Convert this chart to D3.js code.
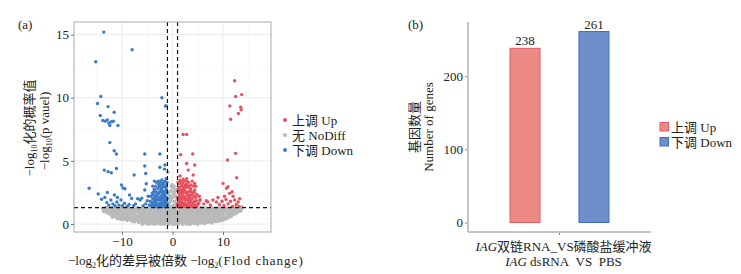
<!DOCTYPE html>
<html>
<head>
<meta charset="utf-8">
<script src="https://cdn.jsdelivr.net/npm/d3@7"></script>
<style>
  body { margin: 0; background: #fff; }
  svg text { font-family: "Liberation Serif", "Times New Roman", "Noto Sans CJK SC", serif; fill: #222; }
</style>
</head>
<body>
<div id="container"></div>
<script>
//数据 (a) 火山图: [log2FC, -log10 p]
let noDiffPts = [
  [-13.8,1.25],[-13.5,1.1],[-13.3,1.3],[-13.1,0.95],[-12.9,1.15],[-12.7,0.85],[-12.6,1.25],[-12.4,1.0],[-12.2,0.75],[-12.1,1.2],
  [-11.9,0.9],[-11.7,0.65],[-11.6,1.1],[-11.4,0.8],[-11.3,1.25],[-11.1,0.55],[-11.0,0.95],[-10.8,1.15],[-10.7,0.7],[-10.5,0.45],
  [-10.4,1.0],[-10.3,1.25],[-10.1,0.6],[-10.0,0.85],[-9.8,0.35],[-9.7,1.1],[-9.5,0.7],[-9.4,0.5],[-9.3,1.25],[-9.1,0.9],
  [-9.0,0.3],[-8.8,0.6],[-8.7,1.05],[-8.5,0.4],[-8.4,0.8],[-8.3,1.2],[-8.1,0.25],[-8.0,0.95],[-7.8,0.55],[-7.7,1.15],
  [-7.5,0.2],[-7.4,0.75],[-7.3,1.0],[-7.1,0.4],[-7.0,1.25],[-6.9,0.6],[-6.7,0.15],[-6.6,0.9],[-6.5,1.2],[-6.3,0.35],
  [-6.2,0.7],[-6.0,1.05],[-5.9,0.1],[-5.8,0.5],[-5.6,0.85],[-5.5,1.25],[-5.4,0.2],[-5.2,0.65],[-5.1,1.0],[-4.9,0.05],
  [-4.8,0.4],[-4.7,0.8],[-4.5,1.15],[-4.4,0.25],[-4.3,0.6],[-4.1,0.95],[-4.0,0.1],[-3.9,0.45],[-3.8,1.25],[-3.7,0.75],
  [-3.6,0.0],[-3.5,1.05],[-3.4,0.3],[-3.3,0.6],[-3.2,0.9],[-3.1,1.2],[-3.0,0.15],[-2.9,0.45],[-2.8,0.75],[-2.7,1.05],
  [-2.6,0.05],[-2.5,0.35],[-2.4,0.65],[-2.3,0.95],[-2.2,1.25],[-2.1,0.2],[-2.0,0.5],[-1.9,0.8],[-1.8,1.1],[-1.7,0.0],
  [-1.6,0.3],[-1.5,0.6],[-1.4,0.9],[-1.3,1.2],[-1.2,0.15],[-1.1,0.45],[-1.0,0.75],[-0.9,1.05],[-0.8,0.0],[-0.7,0.3],
  [-0.6,0.6],[-0.5,0.9],[-0.4,1.2],[-0.3,0.15],[-0.2,0.45],[-0.1,0.75],[0.0,1.05],[0.1,0.0],[0.2,0.3],[0.3,0.6],
  [0.4,0.9],[0.5,1.2],[0.6,0.15],[0.7,0.45],[0.8,0.75],[0.9,1.05],[1.0,0.05],
  [-0.9,4.1],[-0.2,3.0],[0.1,2.8],[0.3,2.5],[-0.4,2.6],[0.6,2.2],[-0.7,2.3],[0.0,2.1],[-0.3,1.9],[0.4,1.8],
  [-0.6,1.7],[0.8,1.6],[0.2,1.5],[-0.1,1.4],[-0.8,1.5],[0.5,1.4],[0.9,2.0],[-0.5,2.0],[0.2,2.4],[-0.2,2.2],
  [0.7,2.7],[-0.1,3.1],[0.3,3.0],
  [1.1,0.35],[1.2,0.85],[1.3,1.15],[1.4,0.1],[1.5,0.55],[1.6,1.0],[1.7,0.25],[1.8,0.7],[1.9,1.25],[2.0,0.0],
  [2.1,0.4],[2.2,0.9],[2.3,1.1],[2.4,0.2],[2.5,0.6],[2.6,1.0],[2.7,0.3],[2.8,0.8],[2.9,1.2],[3.0,0.05],
  [3.1,0.5],[3.2,0.95],[3.3,0.2],[3.4,0.7],[3.5,1.15],[3.6,0.35],[3.7,0.85],[3.8,0.1],[3.9,0.55],[4.0,1.0],
  [4.1,0.25],[4.2,1.25],[4.3,0.7],[4.5,0.1],[4.6,0.45],[4.7,0.95],[4.9,0.2],[5.0,0.6],[5.1,1.1],[5.3,0.35],
  [5.4,0.8],[5.5,1.25],[5.7,0.15],[5.8,0.5],[5.9,0.95],[6.1,0.3],[6.2,0.7],[6.3,1.15],[6.5,0.2],[6.6,0.55],
  [6.8,0.9],[6.9,1.2],[7.0,0.35],[7.2,0.7],[7.3,1.05],[7.5,0.25],[7.6,0.55],[7.8,0.95],[7.9,1.25],[8.1,0.4],
  [8.2,0.75],[8.4,1.1],[8.5,0.3],[8.7,0.6],[8.8,1.0],[9.0,0.45],[9.1,0.8],[9.3,1.2],[9.4,0.35],[9.6,0.65],
  [9.7,1.05],[9.9,0.5],[10.0,0.85],[10.2,1.25],[10.3,0.55],[10.5,0.9],[10.6,0.45],[10.8,1.15],[10.9,0.7],[11.1,1.0],
  [11.2,0.6],[11.4,1.25],[11.5,0.85],[11.7,0.7],[11.8,1.1],[12.0,0.9],[12.1,1.25],[12.3,0.8],[12.5,1.05],[12.7,0.95],
  [12.8,1.3],[13.0,1.1],[13.2,1.0],[13.4,1.25],[13.6,1.2],[13.8,1.35],
  [-8.9,0.75],[-8.6,0.95],[-8.2,0.5],[-7.9,0.8],[-7.6,0.35],[-7.2,0.55],[-6.8,1.0],[-6.4,0.5],[-6.1,0.85],[-5.7,0.65],
  [-5.3,0.95],[-5.0,0.3],[-4.6,0.65],[-4.2,0.4],[-3.95,0.8],[-3.75,0.2],[-3.55,0.55],[-3.35,0.95],[-3.15,0.35],[-2.95,0.75],
  [-2.75,0.2],[-2.55,0.85],[-2.35,0.45],[-2.15,0.7],[-1.95,0.3],[-1.75,0.55],[-1.55,1.05],[-1.35,0.45],[-1.15,0.95],[-0.95,0.2],
  [-0.75,0.6],[-0.55,0.3],[-0.35,0.75],[-0.15,0.25],[0.05,0.55],[0.25,0.95],[0.45,0.3],[0.65,0.8],[0.85,0.4],[1.05,0.7],
  [1.25,0.25],[1.45,0.9],[1.65,0.5],[1.85,0.15],[2.05,0.8],[2.25,0.45],[2.45,1.0],[2.65,0.65],[2.85,0.15],[3.05,0.8],
  [3.25,0.4],[3.45,1.05],[3.65,0.6],[3.85,0.9],[4.05,0.45],[4.4,0.9],[4.8,0.65],[5.2,0.85],[5.6,0.4],[6.0,0.6],
  [6.4,1.0],[6.7,0.35],[7.1,0.95],[7.4,0.5],[7.7,0.8],[8.0,0.2],[8.3,0.55],[8.6,0.85],[8.9,0.65],
  [-8.8,1.3],[-7.9,1.05],[-6.8,1.3],[-5.9,1.3],[-4.9,1.3],[-4.2,1.25],[-2.5,1.2],[-1.6,1.25],[-0.6,1.3],[0.3,1.25],
  [1.6,1.3],[2.6,1.25],[3.6,1.3],[4.8,1.3],[5.9,1.3],[6.6,1.25],[7.5,1.3],[8.9,1.25],[9.5,1.3],[10.4,1.3],
  [11.6,1.3],[-9.9,1.25],[-11.0,1.3],[-12.0,1.3],
  [-6.0,0.0],[-5.2,0.05],[-4.6,0.0],[-3.9,0.1],[-3.2,0.05],[-2.3,0.0],[-1.4,0.05],[-0.5,0.05],[0.4,0.0],[1.2,0.05],
  [2.2,0.1],[2.8,0.0],[3.5,0.0],[4.3,0.05],[5.0,0.0],[5.6,0.1],[6.3,0.05],[7.0,0.15],[7.7,0.1],[8.6,0.2],[9.2,0.25],
  [-13.6,1.0],[-13.0,1.3],[-12.3,1.2],[-11.9,0.55],[-11.5,0.9],[-11.2,1.1],[-10.9,0.45],[-10.6,0.75],[-10.2,0.4],[-9.9,0.65],
  [-9.6,0.95],[-9.2,0.55],[9.2,0.55],[9.5,0.95],[9.8,0.3],[10.1,0.65],[10.4,0.4],[10.7,0.95],[11.0,0.5],[11.3,0.8],
  [11.6,0.6],[11.9,0.95],[12.2,1.1],[12.6,0.85],[12.9,1.15],[13.3,1.3],[13.5,1.05],
  [-9.4,1.15],[-8.95,1.2],[-8.5,1.15],[-8.05,1.22],[-7.6,1.1],[-7.15,1.2],[-6.7,1.12],[-6.25,1.22],[-5.8,1.15],[-5.35,1.1],
  [-4.9,1.2],[-4.45,1.05],[-4.0,1.2],[-3.55,1.25],[-3.1,1.0],[-2.65,1.25],[-2.2,1.05],[-1.75,1.25],[-1.3,1.0],[-0.85,1.25],
  [-0.4,1.0],[0.05,1.25],[0.5,1.0],[0.95,1.25],[1.4,1.05],[1.85,1.1],[2.3,1.25],[2.75,1.05],[3.2,1.2],[3.65,1.05],
  [4.1,1.15],[4.55,1.25],[5.0,1.1],[5.45,1.05],[5.9,1.15],[6.35,1.25],[6.8,1.1],[7.25,1.2],[7.7,1.05],[8.15,1.15],
  [8.6,1.25],[9.05,1.1],[9.5,1.15],
  [-9.2,0.8],[-8.75,0.45],[-8.3,0.9],[-7.85,0.6],[-7.4,0.95],[-6.95,0.5],[-6.5,0.8],[-6.05,0.45],[-5.6,0.95],[-5.15,0.45],
  [-4.7,1.0],[-4.25,0.75],[-3.8,0.6],[-3.35,0.15],[-2.9,1.0],[-2.45,0.1],[-2.0,0.95],[-1.55,0.8],[-1.1,0.25],[-0.65,0.85],
  [-0.2,0.95],[0.25,0.7],[0.7,0.95],[1.15,0.55],[1.6,0.7],[2.05,0.25],[2.5,0.85],[2.95,0.55],[3.4,0.3],[3.85,0.65],
  [4.3,0.4],[4.75,0.75],[5.2,0.5],[5.65,0.75],[6.1,0.85],[6.55,0.75],[7.0,0.6],[7.45,0.85],[7.9,0.5],[8.35,0.9],
  [8.8,0.4],[9.25,0.8],[9.7,0.75],
  [-7.95,0.4],[-7.35,0.3],[-6.85,0.35],[-6.3,0.2],[-5.75,0.3],[-5.25,0.4],[-4.75,0.2],[-4.25,0.1],[-3.8,0.35],[-3.3,0.45],
  [-2.8,0.35],[-2.3,0.25],[-1.85,0.45],[-1.35,0.25],[-0.9,0.35],[-0.45,0.45],[0.0,0.3],[0.45,0.15],[0.9,0.25],[1.35,0.4],
  [1.8,0.35],[2.3,0.3],[2.75,0.45],[3.25,0.2],[3.75,0.4],[4.25,0.3],[4.75,0.4],[5.3,0.2],[5.85,0.3],[6.4,0.4],
  [6.9,0.2],[7.45,0.4],[7.95,0.35],
  [-13.4,1.2],[-12.8,1.05],[-12.5,1.3],[-12.0,1.05],[-11.8,1.25],[-11.3,0.95],[-10.9,1.25],[-10.5,1.2],[-10.2,1.05],[-9.8,1.2],
  [-10.0,0.55],[-10.8,0.85],[-11.5,0.7],[-12.4,1.15],[-13.2,1.2],[13.2,1.2],[12.8,1.05],[12.4,1.25],[12.0,1.05],[11.7,1.25],
  [11.3,0.95],[10.9,1.25],[10.5,1.2],[10.2,1.05],[9.8,1.2],[10.0,0.55],[10.8,0.85],[11.5,0.7],[12.4,1.0],[13.0,1.25]
];

let upPts = [
  [1.1,1.4],[1.3,1.7],[1.2,2.0],[1.5,1.45],[1.6,1.9],[1.4,2.3],[1.1,2.6],[1.7,2.7],[1.9,1.5],[2.0,2.0],
  [2.2,1.4],[2.1,2.4],[1.8,3.0],[2.4,1.7],[2.5,2.15],[2.3,2.8],[2.6,1.45],[2.8,1.9],[2.7,2.45],[2.9,2.9],
  [3.0,1.6],[3.2,2.05],[3.1,2.55],[3.3,1.4],[3.4,1.8],[3.5,2.3],[3.6,2.8],[3.8,1.55],[3.9,2.0],[4.1,1.7],
  [4.3,2.2],[1.3,3.2],[1.5,3.45],[2.0,3.25],[2.4,3.4],[2.7,3.15],[3.2,3.3],[3.7,3.1],[1.2,2.8],[1.6,2.4],
  [1.9,2.15],[2.2,1.6],[2.6,3.0],[3.0,2.25],[3.3,2.95],[1.4,1.35],[1.8,1.75],[2.9,1.35],[3.7,1.4],[4.5,1.5],
  [1.05,2.1],[2.1,3.55],[2.5,2.6],[3.45,2.6],[4.0,2.5],[2.0,2.65],[1.7,3.35],[1.15,1.75],[2.35,1.95],[4.7,1.85],
  [4.9,1.45],[5.2,1.65],[4.4,2.7],[4.8,2.35],[5.5,1.9],[4.2,1.35],[3.9,3.4],[2.8,3.6],[1.5,3.8],[4.6,3.0],
  [1.05,1.55],[1.25,2.05],[1.45,2.55],[1.65,2.05],[1.85,1.4],[2.05,1.65],[2.25,2.15],[2.45,1.5],[2.65,1.95],[2.85,1.55],
  [3.05,1.9],[3.25,1.65],[3.45,2.05],[3.65,1.8],[3.85,2.3],[4.05,1.45],[1.35,2.9],[1.75,2.2],[2.15,2.85],[2.55,3.1],
  [2.95,2.45],[3.35,2.25],[3.75,2.55],[1.1,3.3],[1.9,3.05],[2.8,3.4],[4.2,3.0],[4.4,1.8],[1.55,1.65],[2.75,1.4],
  [3.55,1.45],[1.95,2.5],[4.6,2.1],[5.0,1.6],[5.3,2.2],[4.3,2.5],[3.0,3.05],
  [12.3,11.35],[12.5,10.1],[13.7,10.25],[11.35,9.35],[13.5,9.25],[13.6,9.05],[13.05,8.75],[11.5,8.3],[2.1,7.1],[2.8,7.1],
  [12.5,5.6],[10.9,5.07],[1.6,5.5],[4.0,5.55],[2.8,4.8],[3.1,4.27],[4.4,4.67],[4.1,3.88],[4.4,3.22],[10.0,3.22],
  [11.0,2.96],[11.8,2.56],[12.7,3.67],[10.7,2.83],[11.3,2.43],[5.4,1.9],[6.7,1.85],[7.0,1.75],[8.0,1.9],[8.7,1.75],
  [9.3,1.55],[9.8,1.8],[10.2,1.45],[10.6,1.95],[11.0,1.6],[11.5,1.8],[11.9,1.4],[12.3,1.9],[12.6,1.55],[13.0,1.75],
  [13.3,2.0],[13.2,1.4],[9.0,2.1],[7.5,1.5],[6.2,1.6],[10.3,2.2],[12.0,2.2]
];

let downPts = [
  [-1.1,1.4],[-1.3,1.6],[-1.2,1.9],[-1.5,1.45],[-1.6,1.8],[-1.4,2.2],[-1.1,2.5],[-1.7,2.6],[-1.9,1.5],[-2.0,1.9],
  [-2.2,1.4],[-2.1,2.3],[-1.8,2.95],[-2.4,1.7],[-2.5,2.1],[-2.3,2.7],[-2.6,1.45],[-2.8,1.9],[-2.7,2.4],[-2.9,2.8],
  [-3.0,1.6],[-3.2,2.0],[-3.1,2.5],[-3.3,1.4],[-3.4,1.8],[-3.5,2.3],[-3.6,2.75],[-3.8,1.55],[-3.9,2.0],[-4.1,1.7],
  [-4.3,2.2],[-1.3,3.1],[-1.5,3.4],[-2.0,3.2],[-2.4,3.35],[-2.7,3.15],[-3.2,3.3],[-3.6,3.4],[-1.2,2.75],[-1.6,2.35],
  [-1.9,2.1],[-2.2,1.6],[-2.6,2.95],[-3.0,2.2],[-3.3,3.0],[-1.4,1.35],[-1.8,1.7],[-2.9,1.35],[-3.7,1.4],[-4.5,1.5],
  [-1.05,2.05],[-1.25,3.6],[-2.1,3.5],[-2.5,2.55],[-3.45,2.6],[-4.0,2.45],[-2.0,2.6],[-1.7,3.3],[-1.15,1.7],[-2.35,1.95],
  [-1.05,1.55],[-1.25,2.05],[-1.45,2.55],[-1.65,2.05],[-1.85,1.4],[-2.05,1.65],[-2.25,2.15],[-2.45,1.5],[-2.65,1.95],[-2.85,1.55],
  [-3.05,1.9],[-3.25,1.65],[-3.45,2.05],[-3.65,1.8],[-3.85,2.3],[-4.05,1.45],[-1.35,2.9],[-1.75,2.2],[-2.15,2.85],[-2.55,3.1],
  [-2.95,2.45],[-3.35,2.25],[-3.75,2.55],[-1.1,3.3],[-1.9,3.05],[-2.8,3.4],[-3.9,3.0],[-4.4,1.8],[-1.55,1.65],[-2.75,1.4],
  [-3.55,1.45],[-1.95,2.5],
  [-15.2,12.85],[-13.6,15.2],[-8.0,13.8],[-14.2,10.1],[-14.85,9.55],[-12.75,9.3],[-11.55,8.85],[-14.3,8.6],[-13.8,8.2],[-13.3,8.15],
  [-12.9,8.25],[-12.6,8.0],[-12.1,8.1],[-11.7,8.15],[-12.4,7.8],[-10.8,7.8],[-2.1,10.0],[-1.4,9.35],[-1.2,9.35],[-12.4,6.45],
  [-11.55,5.8],[-11.1,5.55],[-5.5,5.55],[-2.5,5.55],[-13.5,4.27],[-12.75,4.15],[-12.1,4.06],[-11.1,4.4],[-5.5,4.6],[-2.5,4.5],
  [-1.5,4.67],[-1.6,4.35],[-7.6,3.88],[-5.3,4.0],[-16.5,2.83],[-14.7,2.38],[-10.1,3.09],[-9.8,2.85],[-9.4,2.8],[-14.05,1.96],
  [-13.4,2.11],[-8.1,2.03],[-6.9,2.0],[-6.4,1.9],[-6.1,2.05],[-5.5,2.7],[-5.0,1.85],[-4.8,2.2],[-4.6,1.5],[-12.2,1.9],
  [-11.8,1.6],[-11.4,1.45],[-11.0,1.75],[-10.6,1.5],[-10.2,1.9],[-9.9,1.45],[-9.5,1.65],[-9.0,1.4],[-8.6,1.55],[-12.6,1.5],
  [-13.0,1.7],[-7.7,1.45],[-7.3,1.6],[-5.8,1.45],[-5.3,1.6],[-11.5,2.3],[-10.9,2.1],[-12.9,2.5],[-8.5,2.3],[-5.2,3.2]
];

let fcCut = 1;
let pCut = 0.05;
let volcanoXTicks = [-10, 0, 10];
let volcanoYTicks = [0, 5, 10, 15];
let volcanoXMinor = [-15, -5, 5, 15];
let volcanoYMinor = [2.5, 7.5, 12.5];
let groupLabels = ["上调 Up", "无 NoDiff", "下调 Down"];

//数据 (b) 柱状图
let categories = ["IAG dsRNA VS PBS"];
let regulation = ["上调 Up", "下调 Down"];
let upCounts = [238];
let downCounts = [261];
let barYTicks = [0, 100, 200];

let W = 741, H = 274;
let svg = d3.select("#container")
  .append("svg")
  .attr("width", W)
  .attr("height", H)
  .style("background-color", "#fff");

let colors = { "上调 Up": "#e8505e", "无 NoDiff": "#bababa", "下调 Down": "#3b7bc6" };

// ---------- (a) 火山图 ----------
let pa = { l: 74, r: 271, t: 22, b: 232 };
let xA = d3.scaleLinear().domain([-19.5, 19.5]).range([pa.l, pa.r]);
let yA = d3.scaleLinear().domain([-0.63, 16]).range([pa.b, pa.t]);

let ga = svg.append("g");

// 网格
ga.selectAll(".vminor").data(volcanoXMinor).enter().append("line")
  .attr("x1", d => xA(d)).attr("x2", d => xA(d)).attr("y1", pa.t).attr("y2", pa.b)
  .attr("stroke", "#f3f3f3").attr("stroke-width", 0.6);
ga.selectAll(".hminor").data(volcanoYMinor).enter().append("line")
  .attr("y1", d => yA(d)).attr("y2", d => yA(d)).attr("x1", pa.l).attr("x2", pa.r)
  .attr("stroke", "#f3f3f3").attr("stroke-width", 0.6);
ga.selectAll(".vmajor").data(volcanoXTicks).enter().append("line")
  .attr("x1", d => xA(d)).attr("x2", d => xA(d)).attr("y1", pa.t).attr("y2", pa.b)
  .attr("stroke", "#ebebeb").attr("stroke-width", 1);
ga.selectAll(".hmajor").data(volcanoYTicks).enter().append("line")
  .attr("y1", d => yA(d)).attr("y2", d => yA(d)).attr("x1", pa.l).attr("x2", pa.r)
  .attr("stroke", "#ebebeb").attr("stroke-width", 1);

// 点
let drawPts = function (pts, key, r) {
  ga.append("g").selectAll("circle").data(pts).enter().append("circle")
    .attr("cx", d => xA(d[0]))
    .attr("cy", d => yA(d[1]))
    .attr("r", r)
    .attr("fill", colors[key]);
};
drawPts(noDiffPts, "无 NoDiff", 1.9);
drawPts(upPts, "上调 Up", 1.7);
drawPts(downPts, "下调 Down", 1.7);

// 阈值虚线
let pLine = -Math.log10(pCut);
ga.append("line")
  .attr("x1", pa.l).attr("x2", pa.r).attr("y1", yA(pLine)).attr("y2", yA(pLine))
  .attr("stroke", "#111").attr("stroke-width", 1.2).attr("stroke-dasharray", "4,3");
ga.selectAll(".fcline").data([-fcCut, fcCut]).enter().append("line")
  .attr("x1", d => xA(d)).attr("x2", d => xA(d)).attr("y1", pa.t).attr("y2", pa.b)
  .attr("stroke", "#111").attr("stroke-width", 1.2).attr("stroke-dasharray", "4,3");

// 边框
ga.append("rect")
  .attr("x", pa.l).attr("y", pa.t).attr("width", pa.r - pa.l).attr("height", pa.b - pa.t)
  .attr("fill", "none").attr("stroke", "#aaa").attr("stroke-width", 1);

// 坐标轴
let axA_x = ga.append("g").attr("transform", "translate(0," + pa.b + ")")
  .call(d3.axisBottom(xA).tickValues(volcanoXTicks).tickSize(3).tickPadding(1.5));
let axA_y = ga.append("g").attr("transform", "translate(" + pa.l + ",0)")
  .call(d3.axisLeft(yA).tickValues(volcanoYTicks).tickSize(3).tickPadding(2));
[axA_x, axA_y].forEach(function (g) {
  g.select(".domain").remove();
  g.selectAll("line").attr("stroke", "#777");
  g.selectAll("text").style("font-size", "13px").attr("fill", "#333");
});

// 轴标题
let xt = svg.append("text").attr("x", 68).attr("y", 265).attr("text-anchor", "start").style("font-size", "13px");
xt.append("tspan").text("−log");
xt.append("tspan").attr("dy", 3).style("font-size", "8px").text("2");
xt.append("tspan").attr("dy", -3).text("化的差异被倍数 −log");
xt.append("tspan").attr("dy", 3).style("font-size", "8px").text("2");
xt.append("tspan").attr("dy", -3).style("letter-spacing", "1px").text("(Flod change)");

let yt1 = svg.append("text").attr("transform", "translate(34,128) rotate(-90)").attr("text-anchor", "middle").style("font-size", "13px");
yt1.append("tspan").text("−log");
yt1.append("tspan").attr("dy", 3).style("font-size", "8px").text("10");
yt1.append("tspan").attr("dy", -3).text("化的概率值");
let yt2 = svg.append("text").attr("transform", "translate(48.5,131) rotate(-90)").attr("text-anchor", "middle").style("font-size", "13px");
yt2.append("tspan").text("−log");
yt2.append("tspan").attr("dy", 3).style("font-size", "8px").text("10");
yt2.append("tspan").attr("dy", -3).text("(p vauel)");

svg.append("text").attr("x", 18).attr("y", 29).style("font-size", "13px").text("(a)");

// 图例 a
let la = svg.append("g");
la.selectAll("circle").data(groupLabels).enter().append("circle")
  .attr("cx", 285).attr("cy", (d, i) => 120 + i * 15).attr("r", 2)
  .attr("fill", d => colors[d]);
la.selectAll("text").data(groupLabels).enter().append("text")
  .attr("x", 292).attr("y", (d, i) => 120 + i * 15 + 4.5)
  .style("font-size", "13px").text(d => d);

// ---------- (b) 柱状图 ----------
let pb = { l: 468, r: 651, t: 22, b: 232 };
let xB = d3.scaleBand().domain(categories).range([pb.l, pb.r]).padding(0.298);
let xSub = d3.scaleBand().domain(regulation).range([0, xB.bandwidth()]).paddingInner(0.565);
let yB = d3.scaleLinear().domain([-13, 274]).range([pb.b, pb.t]);

let barFill = { "上调 Up": "#eb8a84", "下调 Down": "#6e8fcb" };
let barStroke = { "上调 Up": "#e25a68", "下调 Down": "#3c6fc0" };

let barRows = [];
categories.forEach(function (c, i) {
  barRows.push({ cat: c, key: regulation[0], value: upCounts[i] });
  barRows.push({ cat: c, key: regulation[1], value: downCounts[i] });
});

let gb = svg.append("g");

gb.selectAll("rect.bar").data(barRows).enter().append("rect")
  .attr("class", "bar")
  .attr("x", d => xB(d.cat) + xSub(d.key))
  .attr("y", d => yB(d.value))
  .attr("width", xSub.bandwidth())
  .attr("height", d => yB(0) - yB(d.value))
  .attr("fill", d => barFill[d.key])
  .attr("stroke", d => barStroke[d.key])
  .attr("stroke-width", 1);

gb.selectAll("text.lab").data(barRows).enter().append("text")
  .attr("x", d => xB(d.cat) + xSub(d.key) + xSub.bandwidth() / 2)
  .attr("y", d => yB(d.value) - 3)
  .attr("text-anchor", "middle")
  .style("font-size", "13px")
  .text(d => d.value);

// 轴线
gb.append("line").attr("x1", pb.l).attr("x2", pb.l).attr("y1", pb.t).attr("y2", pb.b)
  .attr("stroke", "#c4c4c4").attr("stroke-width", 2);
gb.append("line").attr("x1", pb.l).attr("x2", pb.r).attr("y1", pb.b).attr("y2", pb.b)
  .attr("stroke", "#c4c4c4").attr("stroke-width", 2);

let axB_y = gb.append("g").attr("transform", "translate(" + (pb.l - 1) + ",0)")
  .call(d3.axisLeft(yB).tickValues(barYTicks).tickSize(2).tickPadding(2));
let axB_x = gb.append("g").attr("transform", "translate(0," + (pb.b + 1) + ")")
  .call(d3.axisBottom(xB).tickSize(2).tickFormat(""));
[axB_x, axB_y].forEach(function (g) {
  g.select(".domain").remove();
  g.selectAll("line").attr("stroke", "#888");
  g.selectAll("text").style("font-size", "13px").attr("fill", "#333");
});

// 分类标签
let cx = xB(categories[0]) + xB.bandwidth() / 2 + 4;
let c1 = svg.append("text").attr("x", cx).attr("y", 251).attr("text-anchor", "middle").style("font-size", "13px");
c1.append("tspan").style("font-style", "italic").text("IAG");
c1.append("tspan").text("双链RNA_VS磷酸盐缓冲液");
let c2 = svg.append("text").attr("x", cx).attr("y", 265.5).attr("text-anchor", "middle").style("font-size", "13px");
c2.append("tspan").style("font-style", "italic").text("IAG");
c2.append("tspan").text("\u00a0dsRNA\u00a0\u00a0VS\u00a0\u00a0PBS");

svg.append("text").attr("transform", "translate(419,127) rotate(-90)").attr("text-anchor", "middle")
  .style("font-size", "13px").text("基因数量");
svg.append("text").attr("transform", "translate(432.5,127) rotate(-90)").attr("text-anchor", "middle")
  .style("font-size", "13px").text("Number of genes");

svg.append("text").attr("x", 408).attr("y", 29).style("font-size", "13px").text("(b)");

// 图例 b
let lb = svg.append("g");
lb.selectAll("rect").data(regulation).enter().append("rect")
  .attr("x", 660).attr("y", (d, i) => 122.5 + i * 15).attr("width", 8.5).attr("height", 8.5)
  .attr("fill", d => barFill[d]).attr("stroke", d => barStroke[d]).attr("stroke-width", 1);
lb.selectAll("text").data(regulation).enter().append("text")
  .attr("x", 671).attr("y", (d, i) => 131.5 + i * 15)
  .style("font-size", "13px").text(d => d);
</script>
</body>
</html>
